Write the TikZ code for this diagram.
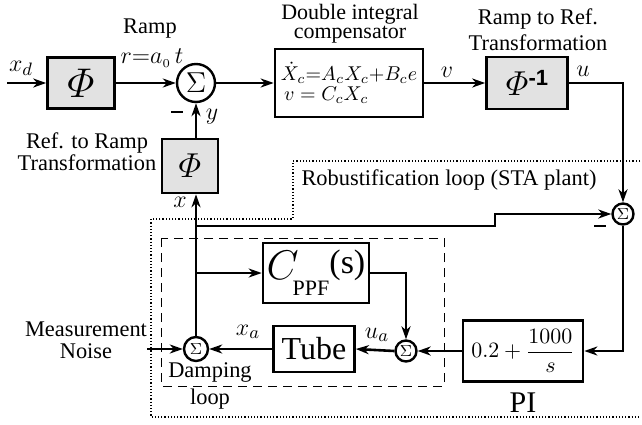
\documentclass[tikz,border=0pt]{standalone}
\usepackage{amsmath}
\usepackage{fontspec}
\setmainfont{Liberation Serif}
\setsansfont{Liberation Sans}
\usepackage{xcolor}
\usepackage{tikz}
\usetikzlibrary{positioning,arrows.meta,calc}

\definecolor{boxgray}{RGB}{226,226,226}
\newcommand{\phisym}[1]{{\fontsize{#1}{#1}\selectfont$\varPhi$}}

\begin{document}
\begin{tikzpicture}[x=0.5pt, y=-0.5pt]
    % Styles
    \tikzstyle{blk} = [rectangle, draw=black, line width=1.3pt, inner sep=0pt, align=center]
    \tikzstyle{gblk} = [blk, fill=boxgray]
    \tikzstyle{sumbig} = [circle, draw=black, line width=1.2pt, inner sep=0pt, minimum size=19pt,
                          font=\fontsize{14}{14}\selectfont]
    \tikzstyle{sumsmall} = [circle, draw=black, line width=1.2pt, inner sep=0pt, minimum size=10.5pt,
                            font=\fontsize{8.5}{8.5}\selectfont]
    \tikzstyle{lbl} = [inner sep=0pt, align=center, font=\fontsize{11.2}{12}\selectfont]
    \tikzstyle{sig} = [inner sep=0pt, font=\fontsize{13}{13}\selectfont]
    \tikzstyle{arrow} = [line width=1.3pt, -{Stealth[length=6.5pt,width=4.5pt,inset=2pt]}]

    \useasboundingbox (0,0) rectangle (642,424);

    % Loop frames
    \draw [densely dotted, line width=0.6pt] (640,161) -- (293,161) -- (293,219) -- (151,219) -- (151,417) -- (640,417);
    \draw [dash pattern=on 4.5pt off 3pt, line width=0.45pt] (161,238) rectangle (444,386);

    % Blocks
    \coordinate (xdin) at (7,83);
    \node (phiA) [gblk, minimum width=33.5pt, minimum height=25.5pt] at (81,83) {\phisym{22}};
    \node (sumA) [sumbig] at (196,83) {$\Sigma$};
    \node (comp) [blk, minimum width=74pt, minimum height=34pt, inner xsep=2pt,
                  font=\fontsize{10}{11}\selectfont, align=left]
          at (349,83) {$\dot X_c{=}A_cX_c{+}B_ce$\\[-1pt]\,$v = C_cX_c$};
    \node (phiInv) [gblk, minimum width=40.5pt, minimum height=26pt] at (527,83)
          {\phisym{16}\raisebox{5pt}{\fontsize{11}{11}\selectfont\sffamily\bfseries -1}};
    \node (phiB) [gblk, minimum width=28pt, minimum height=27pt] at (190,166) {\phisym{17}};
    \node (sumR) [sumsmall] at (623,214) {$\Sigma$};
    \node (pi) [blk, minimum width=60pt, minimum height=30.5pt, font=\fontsize{11}{11}\selectfont]
          at (523,351) {$0.2+\dfrac{1000}{s}$};
    \node (sumU) [sumsmall] at (406,351) {$\Sigma$};
    \node (cppf) [blk, minimum width=53pt, minimum height=30pt] at (316,273)
          {{\fontsize{21}{21}\selectfont$C$}\kern-3pt\raisebox{-8pt}{\fontsize{11}{11}\selectfont PPF}\raisebox{3pt}{\fontsize{17}{17}\selectfont(s)}};
    \node (tube) [blk, minimum width=40.5pt, minimum height=23pt, font=\fontsize{16}{16}\selectfont] at (314,349) {Tube};
    \node (sumD) [sumsmall, minimum size=12pt] at (196,349) {$\Sigma$};
    \coordinate (noise) at (147,349);
    \coordinate (jx) at (196,226);

    % Labels
    \node (lxd) [sig] at (21,68) {$x_d$};
    \node (lramp) [lbl] at (150,29) {Ramp};
    \node (lr) [sig] at (152,58) {$r{=}a_{\scriptscriptstyle 0}\,t$};
    \node (lcomp) [lbl, font=\fontsize{11}{9.5}\selectfont] at (350,24) {Double integral\\compensator};
    \node (linv) [lbl, font=\fontsize{11.2}{13}\selectfont] at (538,30) {Ramp to Ref.\\Transformation};
    \node (lv) [sig] at (447,72) {$v$};
    \node (lu) [sig] at (583,71) {$u$};
    \node (minA) at (177,112) {\rule{6pt}{1.4pt}};
    \node (ly) [sig] at (212,117) {$y$};
    \node (lref) [lbl, font=\fontsize{11.2}{10.8}\selectfont] at (87,152) {Ref. to Ramp\\Transformation};
    \node (lx) [sig] at (180,202) {$x$};
    \node (lrob) [lbl] at (449,180) {Robustification loop (STA plant)};
    \node (minR) at (600,226) {\rule{6pt}{1.4pt}};
    \node (lnoise) [lbl, font=\fontsize{11.2}{11.2}\selectfont] at (86,340) {Measurement\\Noise};
    \node (lxa) [sig] at (248,332) {$x_a$};
    \node (lua) [sig] at (377,335) {$u_a$};
    \node (ldamp) [lbl] at (210,372) {Damping};
    \node (lloop) [lbl] at (210,399) {loop};
    \node (lpi) [lbl, font=\fontsize{15}{15}\selectfont, below=5pt of pi] {PI};

    % Arrows
    \draw [arrow] (xdin) -- (phiA.west);
    \draw [arrow] (phiA.east) -- (sumA.west);
    \draw [arrow] (sumA.east) -- (comp.west);
    \draw [arrow] (comp.east) -- (phiInv.west);
    \draw [arrow] (phiInv.east) -| (sumR.north);
    \draw [arrow] (sumR.south) |- (pi.east);
    \draw [arrow] (pi.west) -- (sumU.east);
    \draw [arrow] (sumU.west) -- (tube.east);
    \draw [arrow] (tube.west) -- (sumD.east);
    \draw [arrow] (noise) -- (sumD.west);
    \draw [arrow] (cppf.east) -| (sumU.north);
    \draw [arrow] (sumD.north |- cppf.west) -- (cppf.west);
    \draw [arrow] (sumD.north) -- (sumD.north |- phiB.south);
    \draw [arrow] (sumD.north |- phiB.north) -- (sumA.south);
    \draw [arrow] (jx) -- ++(299,0) |- (sumR.west);

\end{tikzpicture}
\end{document}
